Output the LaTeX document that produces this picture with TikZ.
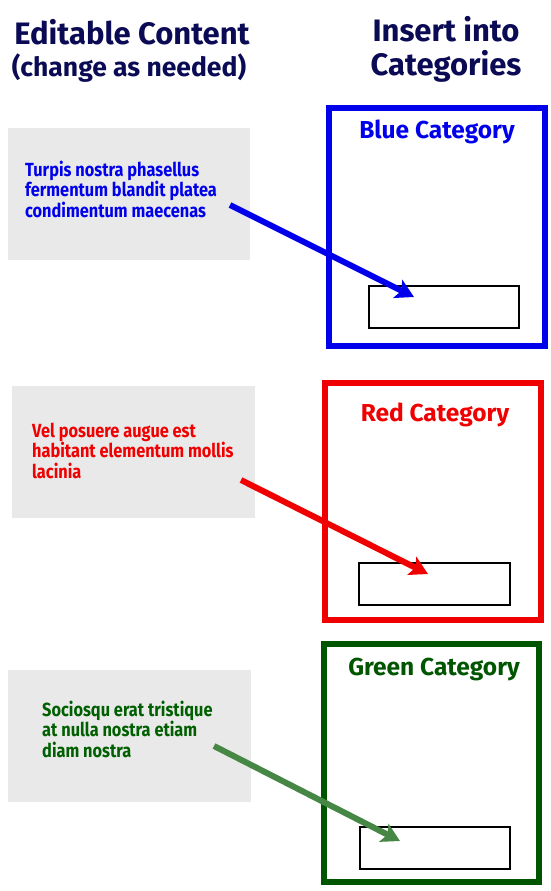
\documentclass[tikz,border=0pt]{standalone}
\usepackage{fontspec}
\setmainfont{Fira Sans}
\newfontfamily\bodyfont[FakeStretch=0.86]{Fira Sans}
\usetikzlibrary{arrows.meta}
\definecolor{navy}{RGB}{10,10,85}
\definecolor{myblue}{RGB}{0,0,235}
\definecolor{myred}{RGB}{240,0,0}
\definecolor{mygreen}{RGB}{0,85,0}
\definecolor{mygreentext}{RGB}{0,95,0}
\definecolor{arrowgreen}{RGB}{70,135,70}
\definecolor{panel}{RGB}{233,233,233}
\tikzset{
  title/.style={font=\bfseries\fontsize{31}{34}\selectfont, text=navy, align=center, anchor=base, inner sep=0pt},
  panelbox/.style={fill=panel, draw=none, minimum width=242pt, minimum height=132pt, anchor=north west, inner sep=0pt, outer sep=0pt},
  ptext/.style={font=\bodyfont\bfseries\fontsize{19}{20.3}\selectfont, align=left, anchor=base west, inner sep=0pt},
  catbox/.style={draw, line width=5.5pt, anchor=north west, inner sep=0pt, outer sep=0pt},
  cattitle/.style={font=\bfseries\fontsize{24.5}{28}\selectfont, anchor=base, inner sep=0pt},
  slot/.style={draw=black, line width=1.6pt, fill=white, anchor=north west, inner sep=0pt, outer sep=0pt},
  bigarrow/.style={line width=6pt, -{Stealth[length=18pt,width=20pt,inset=4pt]}}
}
\begin{document}
\begin{tikzpicture}[x=1pt,y=-1pt]
\useasboundingbox (0,0) rectangle (551,891);
% headings (multi-line nodes: base = last line's baseline)
\node[title] (h1) at (132,45) {Editable Content};
\node[title, font=\bfseries\fontsize{26.5}{30}\selectfont] (h2) at (129,77) {(change as needed)};
\node[title] (h3) at (446,75) {Insert into\\Categories};

% ---- blue ----
\node[panelbox] (p1) at (8,128) {};
\node[ptext, text=myblue] (t1) at (25,217) {Turpis nostra phasellus\\fermentum blandit platea\\condimentum maecenas};
\node[catbox, draw=myblue, minimum width=216pt, minimum height=238pt] (c1) at (328.75,107.75) {};
\node[cattitle, text=myblue] (ct1) at (437,138) {Blue Category};
\node[slot, minimum width=150pt, minimum height=42pt] (s1) at (368.8,285.8) {};
\coordinate (a1s) at (230,205);
\coordinate (a1e) at (414,297);
\draw[bigarrow, myblue] (a1s) -- (a1e);

% ---- red ----
\node[panelbox, minimum width=243pt] (p2) at (12,386) {};
\node[ptext, text=myred] (t2) at (32,478) {Vel posuere augue est\\habitant elementum mollis\\lacinia};
\node[catbox, draw=myred, minimum width=216pt, minimum height=237pt] (c2) at (324.75,382.75) {};
\node[cattitle, text=myred] (ct2) at (435,421) {Red Category};
\node[slot, minimum width=151pt, minimum height=42pt] (s2) at (358.8,562.8) {};
\coordinate (a2s) at (241,480);
\coordinate (a2e) at (428,574);
\draw[bigarrow, myred] (a2s) -- (a2e);

% ---- green ----
\node[panelbox, minimum width=243pt] (p3) at (8,670) {};
\node[ptext, text=mygreentext] (t3) at (42,757) {Sociosqu erat tristique\\at nulla nostra etiam\\diam nostra};
\node[catbox, draw=mygreen, minimum width=215pt, minimum height=238pt] (c3) at (323.75,643.75) {};
\node[cattitle, text=mygreen] (ct3) at (434,675) {Green Category};
\node[slot, minimum width=150pt, minimum height=42pt] (s3) at (359.8,826.8) {};
\coordinate (a3s) at (214,746);
\coordinate (a3e) at (400,841);
\draw[bigarrow, arrowgreen] (a3s) -- (a3e);
\end{tikzpicture}
\end{document}
